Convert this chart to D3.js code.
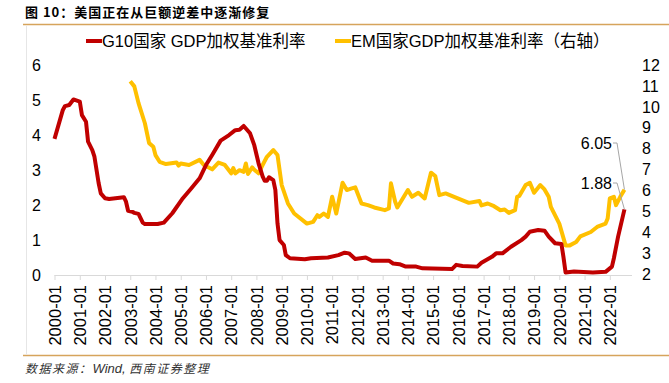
<!DOCTYPE html>
<html lang="zh">
<head>
    <meta charset="UTF-8">
    <title>美国正在从巨额逆差中逐渐修复</title>
    <script src="https://d3js.org/d3.v7.min.js"></script>
    <style>
        body { margin: 0; background: #fff; }
        text { font-family: "Liberation Sans", Arial, "Noto Sans CJK SC", sans-serif; fill: #000; }
    </style>
</head>
<body>
    <div id="chart"></div>
    <script>
        // G10 GDP加权基准利率 (left axis)
        const g10Dates = ["2000-01","2000-05","2000-06","2000-08","2000-10","2001-01","2001-02","2001-04","2001-05","2001-07",
            "2001-08","2001-10","2001-11","2002-01","2002-03","2002-10","2002-11","2002-12","2003-02","2003-03",
            "2003-05","2003-07","2003-08","2004-02","2004-05","2004-09","2005-02","2005-06","2005-10","2006-01",
            "2006-04","2006-08","2006-12","2007-03","2007-05","2007-07","2007-10","2007-12","2008-02","2008-04",
            "2008-05","2008-06","2008-07","2008-09","2008-10","2008-11","2008-12","2009-02","2009-03","2009-05",
            "2009-12","2010-03","2010-11","2011-04","2011-07","2011-09","2011-12","2012-05","2012-08","2013-04",
            "2013-06","2013-09","2013-12","2014-05","2014-08","2015-10","2015-12","2016-03","2016-10","2016-12",
            "2017-05","2017-07","2017-10","2018-02","2018-07","2018-09","2018-11","2019-03","2019-06","2019-08",
            "2019-11","2020-02","2020-03","2020-04","2020-08","2021-05","2021-11","2022-02","2022-03","2022-05","2022-08"];
        const g10Values = [3.9,4.73,4.84,4.87,5.03,4.97,4.58,4.39,3.82,3.58,
            3.39,2.63,2.34,2.2,2.18,2.23,2.1,1.84,1.81,1.78,
            1.75,1.5,1.46,1.46,1.5,1.77,2.2,2.48,2.77,3.15,
            3.44,3.85,4.01,4.15,4.16,4.27,4.06,3.72,3.2,2.82,
            2.7,2.7,2.8,2.72,2.44,1.48,1.0,0.86,0.57,0.48,
            0.45,0.48,0.5,0.57,0.64,0.62,0.46,0.5,0.41,0.41,
            0.33,0.31,0.24,0.24,0.19,0.17,0.29,0.26,0.24,0.35,
            0.52,0.62,0.62,0.81,1.0,1.1,1.24,1.29,1.27,1.1,
            0.91,0.89,0.52,0.07,0.1,0.07,0.09,0.24,0.48,1.1,1.88];

        // EM GDP加权基准利率 (right axis)
        const emDates = ["2003-01","2003-03","2003-05","2003-08","2003-10","2003-12","2004-01","2004-03","2004-06","2004-11",
            "2004-12","2005-01","2005-05","2005-10","2005-12","2006-04","2006-07","2006-10","2007-01","2007-02",
            "2007-03","2007-05","2007-07","2007-08","2007-09","2007-11","2007-12","2008-02","2008-04","2008-06",
            "2008-09","2008-11","2009-01","2009-04","2009-07","2010-01","2010-04","2010-06","2010-07","2010-09",
            "2010-11","2011-01","2011-03","2011-06","2011-08","2011-10","2011-12","2012-03","2012-06","2012-09",
            "2013-02","2013-04","2013-05","2013-07","2013-08","2014-01","2014-03","2014-06","2014-09","2014-12",
            "2015-02","2015-04","2015-07","2015-11","2016-06","2016-11","2016-12","2017-03","2017-06","2017-09",
            "2017-11","2018-01","2018-04","2018-05","2018-06","2018-09","2018-11","2019-01","2019-04","2019-06",
            "2019-08","2019-09","2020-01","2020-04","2020-06","2020-09","2020-11","2021-04","2021-07","2021-11",
            "2021-12","2022-01","2022-03","2022-04","2022-06","2022-08"];
        const emValues = [11.22,10.98,10.18,9.22,8.27,8.1,7.7,7.38,7.27,7.35,
            7.2,7.3,7.23,7.47,7.23,7.02,7.34,7.23,6.83,7.08,
            6.83,6.98,6.9,7.3,6.8,7.11,7.0,6.83,7.23,7.62,
            7.94,7.7,6.27,5.39,4.91,4.43,4.51,4.83,4.75,4.91,
            4.75,5.71,4.91,6.38,6.03,6.1,6.16,5.39,5.31,5.2,
            5.07,5.15,6.35,5.47,5.2,6.03,5.71,5.9,5.63,6.86,
            6.7,5.79,5.87,5.71,5.42,5.51,5.3,5.39,5.26,5.07,
            5.1,4.94,5.07,5.71,5.75,6.27,6.38,5.9,6.27,6.06,
            5.71,5.23,4.43,3.39,3.39,3.55,3.82,4.03,4.27,4.43,
            4.67,5.63,5.71,5.31,5.71,6.05];

        const xTickLabels = d3.range(2000, 2023).map(y => `${y}-01`);
        const leftTicks = [0, 1, 2, 3, 4, 5, 6];
        const rightTicks = [2, 3, 4, 5, 6, 7, 8, 9, 10, 11, 12];
        const legendNames = ["G10国家 GDP加权基准利率", "EM国家GDP加权基准利率（右轴）"];
        const endLabels = ["6.05", "1.88"];

        const width = 669, height = 383;
        const red = "#c00000", yellow = "#ffc000";
        const parse = d3.timeParse("%Y-%m");

        const svg = d3.select("#chart").append("svg")
            .attr("width", width)
            .attr("height", height);

        // scales
        const x = d3.scaleTime()
            .domain([parse("2000-01"), parse("2022-01")])
            .range([54.5, 609.8]);
        const yL = d3.scaleLinear().domain([0, 6]).range([275, 65.6]);
        const yR = d3.scaleLinear().domain([2, 12]).range([274.5, 65]);

        const g10 = g10Dates.map((d, i) => ({ date: parse(d), v: g10Values[i] }));
        const em = emDates.map((d, i) => ({ date: parse(d), v: emValues[i] }));

        // title and frame lines
        svg.append("text")
            .attr("x", 25).attr("y", 16.5)
            .style("font-family", "'Noto Sans CJK SC'")
            .style("font-size", "13px")
            .style("font-weight", "bold")
            .style("letter-spacing", "1px")
            .text("图 10：美国正在从巨额逆差中逐渐修复");

        svg.append("line")
            .attr("x1", 23).attr("x2", width).attr("y1", 24.5).attr("y2", 24.5)
            .attr("stroke", "#d6a45c").attr("stroke-width", 1.5);
        svg.append("line")
            .attr("x1", 23).attr("x2", width).attr("y1", 355.5).attr("y2", 355.5)
            .attr("stroke", "#d6a45c").attr("stroke-width", 1.5);
        svg.append("line")
            .attr("x1", 26.5).attr("x2", 26.5).attr("y1", 26).attr("y2", 355)
            .attr("stroke", "#e6e6e6").attr("stroke-width", 1);

        // legend
        const legend = svg.append("g");
        [[86, red], [335, yellow]].forEach(([lx, c], i) => {
            legend.append("line")
                .attr("x1", lx).attr("x2", lx + 16).attr("y1", 41).attr("y2", 41)
                .attr("stroke", c).attr("stroke-width", 4);
            legend.append("text")
                .attr("x", lx + 16).attr("y", 47)
                .style("font-size", "16.5px")
                .text(legendNames[i]);
        });

        // x axis
        const xAxis = svg.append("g")
            .attr("transform", "translate(0,275)")
            .call(d3.axisBottom(x)
                .tickValues(xTickLabels.map(parse))
                .tickFormat(d3.timeFormat("%Y-%m"))
                .tickSize(5)
                .tickSizeOuter(0));
        xAxis.select(".domain").attr("stroke", "#d9d9d9").attr("d", "M54.5,0.5H632");
        xAxis.selectAll(".tick line").attr("stroke", "#d9d9d9");
        xAxis.selectAll(".tick text")
            .attr("transform", "rotate(-90)")
            .attr("x", -10).attr("y", 0).attr("dy", "0.35em")
            .style("text-anchor", "end")
            .style("font-size", "16.5px")
            .style("font-family", "'Liberation Sans'");

        // y axes, labels only
        const leftAxis = svg.append("g")
            .attr("transform", "translate(41,0)")
            .call(d3.axisLeft(yL).tickValues(leftTicks).tickFormat(d3.format("d")).tickSize(0).tickPadding(0));
        leftAxis.select(".domain").remove();
        leftAxis.selectAll("text").style("font-size", "16px").style("font-family", "'Liberation Sans'");

        const rightAxis = svg.append("g")
            .attr("transform", "translate(642,0)")
            .call(d3.axisRight(yR).tickValues(rightTicks).tickFormat(d3.format("d")).tickSize(0).tickPadding(0));
        rightAxis.select(".domain").remove();
        rightAxis.selectAll("text").style("font-size", "16px").style("font-family", "'Liberation Sans'");

        // series
        const lineL = d3.line().x(d => x(d.date)).y(d => yL(d.v));
        const lineR = d3.line().x(d => x(d.date)).y(d => yR(d.v));

        svg.append("path").datum(em)
            .attr("d", lineR)
            .attr("fill", "none").attr("stroke", yellow)
            .attr("stroke-width", 4).attr("stroke-linejoin", "round");
        svg.append("path").datum(g10)
            .attr("d", lineL)
            .attr("fill", "none").attr("stroke", red)
            .attr("stroke-width", 4).attr("stroke-linejoin", "round");

        // end value labels with leader lines
        const emLast = em[em.length - 1], g10Last = g10[g10.length - 1];
        const ends = [
            { label: endLabels[0], px: x(emLast.date), py: yR(emLast.v), ly: 143 },
            { label: endLabels[1], px: x(g10Last.date), py: yL(g10Last.v), ly: 183 }
        ];
        ends.forEach(e => {
            svg.append("polyline")
                .attr("points", `613,${e.ly} 617,${e.ly} ${e.px},${e.py}`)
                .attr("fill", "none").attr("stroke", "#a6a6a6").attr("stroke-width", 1);
            svg.append("text")
                .attr("x", 612).attr("y", e.ly + 6)
                .style("text-anchor", "end")
                .style("font-size", "16px")
                .text(e.label);
        });

        // source note
        const note = svg.append("text")
            .attr("x", 25).attr("y", 373)
            .style("font-family", "'Noto Sans CJK SC'")
            .style("font-size", "12px")
            .style("font-style", "italic")
            .style("fill", "#333");
        note.append("tspan").style("letter-spacing", "1.5px").text("数据来源：");
        note.append("tspan").style("font-family", "'Liberation Sans'").style("font-size", "13px").text("Wind, ");
        note.append("tspan").style("letter-spacing", "1.5px").text(" 西南证券整理");
    </script>
</body>
</html>
